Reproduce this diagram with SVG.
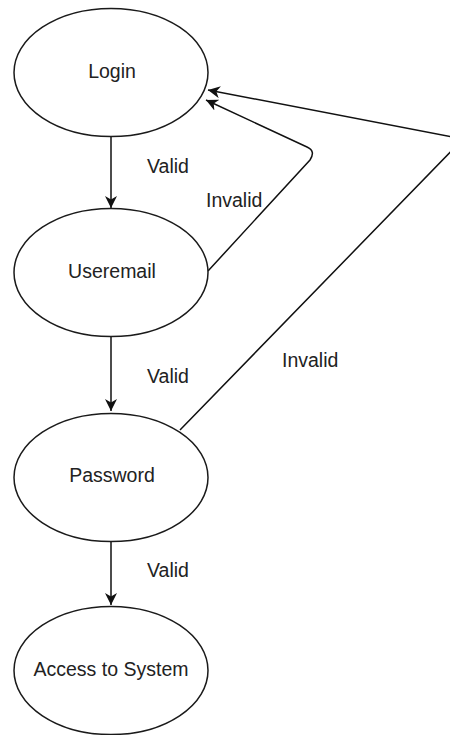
<svg xmlns="http://www.w3.org/2000/svg" width="450" height="735" viewBox="0 0 450 735">
<style>
.node{fill:#ffffff;stroke:#1a1a1a;stroke-width:1.5}
.lbl{font-family:"Liberation Sans",Arial,sans-serif;font-size:19.5px;fill:#222222}
.edge{fill:none;stroke:#111111;stroke-width:1.5}
</style>
<defs>
<marker id="arr" viewBox="0 0 12 12" refX="12" refY="6" markerWidth="12" markerHeight="12" markerUnits="userSpaceOnUse" orient="auto">
<path d="M0,0 L12,6 L0,12 L3.5,6 Z" fill="#111111"/>
</marker>
</defs>
<rect width="450" height="735" fill="#ffffff"/>
<g id="connectors">
<path class="edge" d="M111,137 L111,208" marker-end="url(#arr)"/>
<path class="edge" d="M111,337 L111,411" marker-end="url(#arr)"/>
<path class="edge" d="M111,542 L111,605" marker-end="url(#arr)"/>
<path class="edge" d="M208,271 L310,160 Q316,151 307,147 L206,100" marker-end="url(#arr)"/>
<path class="edge" d="M180,430 L463,139 L208,90" marker-end="url(#arr)"/>
<text class="lbl" x="147" y="173">Valid</text>
<text class="lbl" x="206" y="207">Invalid</text>
<text class="lbl" x="147" y="383">Valid</text>
<text class="lbl" x="282" y="367">Invalid</text>
<text class="lbl" x="147" y="577">Valid</text>
</g>
<g id="login">
<ellipse class="node" cx="111" cy="72.5" rx="97" ry="64"/>
<text class="lbl" x="112" y="78" text-anchor="middle">Login</text>
</g>
<g id="useremail">
<ellipse class="node" cx="111" cy="272.5" rx="97" ry="64"/>
<text class="lbl" x="112" y="278" text-anchor="middle">Useremail</text>
</g>
<g id="password">
<ellipse class="node" cx="111" cy="477.5" rx="97" ry="64"/>
<text class="lbl" x="112" y="482" text-anchor="middle">Password</text>
</g>
<g id="access">
<ellipse class="node" cx="111" cy="670.5" rx="97" ry="64"/>
<text class="lbl" x="111" y="676" text-anchor="middle">Access to System</text>
</g>
</svg>
